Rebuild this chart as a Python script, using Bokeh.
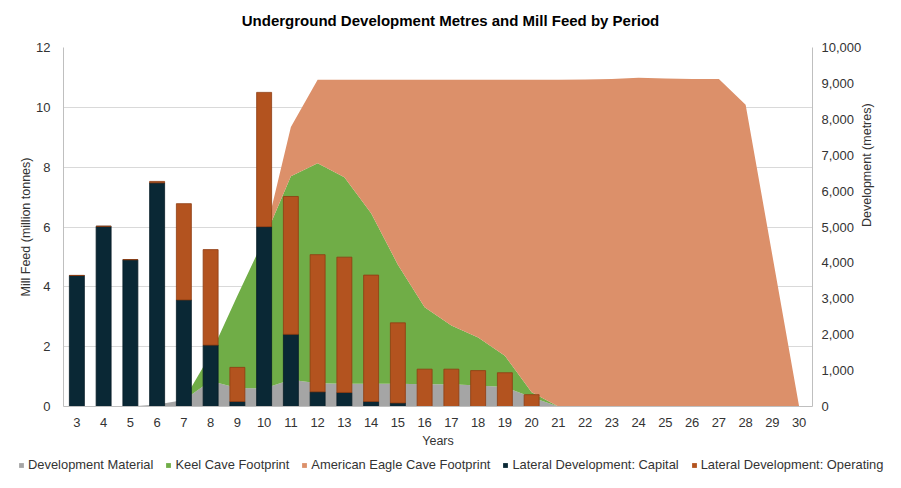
import math
from bokeh.plotting import figure
from bokeh.layouts import column
from bokeh.models import (Range1d, LinearAxis, FixedTicker, NumeralTickFormatter,
                          Legend, LegendItem, ColumnDataSource, Label)
from bokeh.embed import file_html
from bokeh.resources import INLINE

# ---------------- data ----------------
years = list(range(3, 31))

# Mill feed (million tonnes) - stacked areas
development_material = [0, 0, 0, 0.07, 0.22, 0.85, 0.62, 0.60, 0.89, 0.78, 0.76, 0.76, 0.76,
                        0.74, 0.74, 0.70, 0.65, 0.31, 0, 0, 0, 0, 0, 0, 0, 0, 0, 0]
keel_cave = [0, 0, 0, 0, 0, 0.90, 3.08, 5.00, 6.81, 7.35, 6.90, 5.70, 3.98,
             2.58, 1.97, 1.61, 1.05, 0.17, 0, 0, 0, 0, 0, 0, 0, 0, 0, 0]
american_eagle = [0, 0, 0, 0, 0, 0, 0, 0, 1.64, 2.79, 3.26, 4.46, 6.18,
                  7.60, 8.21, 8.61, 9.22, 10.44, 10.92, 10.93, 10.95, 10.99, 10.96, 10.95,
                  10.95, 10.09, 5.05, 0]

# Development (metres) - stacked bars
lateral_capital = [3650, 5020, 4090, 6230, 2970, 1710, 140, 5010, 2010, 410, 390, 140, 100,
                   0, 0, 0, 0, 0, 0, 0, 0, 0, 0, 0, 0, 0, 0, 0]
lateral_operating = [0, 0, 0, 40, 2680, 2660, 950, 3740, 3840, 3820, 3770, 3520, 2230,
                     1040, 1040, 1000, 940, 330, 0, 0, 0, 0, 0, 0, 0, 0, 0, 0]

series_names = ["Development Material", "Keel Cave Footprint", "American Eagle Cave Footprint",
                "Lateral Development: Capital", "Lateral Development: Operating"]

left_ticks = [0, 2, 4, 6, 8, 10, 12]
right_ticks = [0, 1000, 2000, 3000, 4000, 5000, 6000, 7000, 8000, 9000, 10000]

title_text = "Underground Development Metres and Mill Feed by Period"
left_title = "Mill Feed (million tonnes)"
right_title = "Development (metres)"
x_title = "Years"

# ---------------- styles ----------------
C_GREY = "#a5a5a5"
C_GREEN = "#70ad47"
C_AE = "#dc906a"
C_CAP = "#0a2835"
C_OP = "#b3531f"
FONT = "Liberation Sans"
TXT = "#333333"
W = 885

src = ColumnDataSource(dict(year=years, dm=development_material, keel=keel_cave,
                            ae=american_eagle, cap=lateral_capital, op=lateral_operating))

# ---------------- title strip ----------------
top = figure(width=W, height=30, output_backend="svg", toolbar_location=None,
             min_border=0, x_range=Range1d(0, W), y_range=Range1d(0, 30))
top.axis.visible = False
top.grid.visible = False
top.outline_line_color = None
try:
    top.frame_align = False
except Exception:
    pass
top.add_layout(Label(x=450, y=10, text=title_text, text_align="center", text_baseline="middle",
                     text_font=FONT, text_font_size="15px", text_font_style="bold",
                     text_color="#000000"))

# ---------------- main chart ----------------
p = figure(width=W, height=422, output_backend="svg", toolbar_location=None,
           x_range=Range1d(2.5, 30.5), y_range=Range1d(0, 12),
           min_border_left=63, min_border_right=73, min_border_top=17, min_border_bottom=46)
p.extra_y_ranges = {"dev": Range1d(0, 10000)}
p.outline_line_color = None
p.border_fill_color = "white"
p.background_fill_color = "white"
try:
    p.frame_align = False
except Exception:
    pass

# areas (stacked)
areas = p.varea_stack(["dm", "keel", "ae"], x="year", source=src,
                      color=[C_GREY, C_GREEN, C_AE])

# bars (stacked, secondary axis)
bars = p.vbar_stack(["cap", "op"], x="year", width=0.56, source=src, y_range_name="dev",
                    fill_color=[C_CAP, C_OP], line_color=["#061c26", "#8e3c12"], line_width=0.8)

# axes
xa = p.xaxis[0]
xa.ticker = FixedTicker(ticks=years)
xa.axis_label = x_title
ya = p.yaxis[0]
ya.ticker = FixedTicker(ticks=left_ticks)
ya.axis_label = left_title

ra = LinearAxis(y_range_name="dev", axis_label=right_title,
                ticker=FixedTicker(ticks=right_ticks),
                formatter=NumeralTickFormatter(format="0,0"))
try:
    ra.axis_label_orientation = math.pi / 2
except Exception:
    pass
p.add_layout(ra, "right")

for ax in (xa, ya, ra):
    ax.major_tick_out = 0
    ax.major_tick_in = 0
    ax.minor_tick_out = 0
    ax.minor_tick_in = 0
    ax.axis_line_color = "#bfbfbf"
    ax.major_label_text_font = FONT
    ax.major_label_text_font_size = "13px"
    ax.major_label_text_color = TXT
    ax.axis_label_text_font = FONT
    ax.axis_label_text_font_size = "12.5px"
    ax.axis_label_text_font_style = "normal"
    ax.axis_label_text_color = TXT

xa.major_label_standoff = 11
xa.axis_label_standoff = 4
ya.major_label_standoff = 13
ya.axis_label_standoff = 0
ra.major_label_standoff = 9
ra.axis_label_standoff = 3

p.xgrid.visible = False
p.ygrid.grid_line_color = "#d9d9d9"
p.ygrid.ticker = FixedTicker(ticks=left_ticks)

# ---------------- legend strip ----------------
lg = figure(width=W, height=20, output_backend="svg", toolbar_location=None,
            min_border=0, x_range=Range1d(2.5, 30.5), y_range=Range1d(-200, -100))
lg.axis.visible = False
lg.grid.visible = False
lg.outline_line_color = None
try:
    lg.frame_align = False
except Exception:
    pass
# same series, lying outside this strip's visible range: only the legend keys show
l_areas = lg.varea_stack(["dm", "keel", "ae"], x="year", source=src,
                         color=[C_GREY, C_GREEN, C_AE])
l_bars = lg.varea_stack(["cap", "op"], x="year", source=src, color=[C_CAP, C_OP])
l_rends = list(l_areas) + list(l_bars)

legend = Legend(items=[LegendItem(label=n, renderers=[r]) for n, r in zip(series_names, l_rends)],
                orientation="horizontal", location=(18, 0),
                glyph_width=6, glyph_height=6, label_standoff=4, spacing=12,
                padding=0, margin=0, border_line_color=None, background_fill_alpha=0,
                label_text_font=FONT, label_text_font_size="12.9px", label_text_color=TXT)
lg.add_layout(legend)

layout = column(top, p, lg, spacing=0)
open("out.html", "w").write(file_html(layout, INLINE))
